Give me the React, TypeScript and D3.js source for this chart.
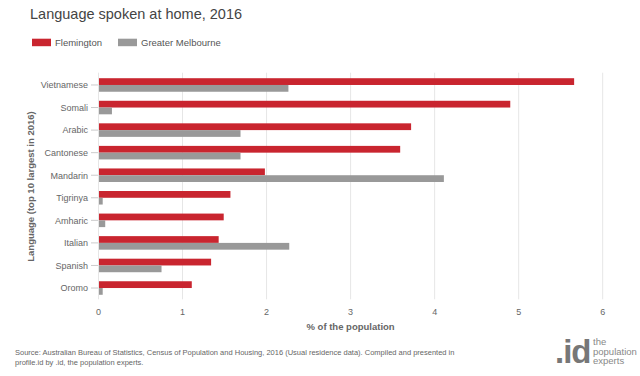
import React from "react";
import * as d3 from "d3";

const categories = ["Vietnamese", "Somali", "Arabic", "Cantonese", "Mandarin", "Tigrinya", "Amharic", "Italian", "Spanish", "Oromo"];
const flemington = [5.66, 4.9, 3.72, 3.59, 1.98, 1.57, 1.49, 1.43, 1.34, 1.11];
const greaterMelbourne = [2.26, 0.16, 1.69, 1.69, 4.11, 0.05, 0.08, 2.27, 0.75, 0.05];
const xTicks = [0, 1, 2, 3, 4, 5, 6];
const seriesNames = ["Flemington", "Greater Melbourne"];
const seriesColors = ["#c9252f", "#999999"];

const W = 640, H = 376;
const left = 98.5, right = 602.7, top = 73.7, bottom = 299.3;
const font = "Arial, 'Liberation Sans', Helvetica, sans-serif";

export default function App() {
  const x = d3.scaleLinear().domain([0, 6]).range([left, right]);
  const y = d3.scaleBand<string>().domain(categories).range([top, bottom]).paddingInner(0.4).paddingOuter(0.2);
  const sub = d3.scaleBand<number>().domain([0, 1]).range([0, y.bandwidth()]);
  const series = [flemington, greaterMelbourne];
  return (
    <svg width={W} height={H} style={{ position: "absolute", left: 0, top: 0, background: "#fff" }} fontFamily={font}>
      <rect width={W} height={H} fill="#fff" />
      <text x={30} y={18.5} fontSize={14.5} fill="#444">Language spoken at home, 2016</text>
      {seriesNames.map((n, i) => (
        <g key={n} transform={`translate(${[32, 118][i]},38.7)`}>
          <rect width={19} height={7.5} fill={seriesColors[i]} />
          <text x={23} y={7.3} fontSize={9.5} fill="#555">{n}</text>
        </g>
      ))}
      {xTicks.map(t => (
        <g key={t}>
          {t > 0 && <line x1={x(t)} x2={x(t)} y1={top - 1} y2={bottom} stroke="#e6e6e6" strokeWidth={1} />}
          <text x={x(t)} y={314.5} fontSize={9} fill="#666" textAnchor="middle">{t}</text>
        </g>
      ))}
      {categories.map((c, i) => (
        <g key={c}>
          <line x1={91} x2={98} y1={(y(c) as number) + y.bandwidth() / 2} y2={(y(c) as number) + y.bandwidth() / 2} stroke="#ccc" />
          <text x={88} y={(y(c) as number) + y.bandwidth() / 2 + 3.3} fontSize={9} fill="#666" textAnchor="end">{c}</text>
          {series.map((s, j) => (
            <rect key={j} x={x(0)} y={(y(c) as number) + (sub(j) as number)} width={x(s[i]) - x(0)} height={sub.bandwidth()} fill={seriesColors[j]} />
          ))}
        </g>
      ))}
      <line x1={x(0)} x2={x(0)} y1={top - 1} y2={bottom} stroke="#e6e6e6" />
      <text x={(left + right) / 2} y={329.5} fontSize={9.5} fontWeight="bold" fill="#666" textAnchor="middle">% of the population</text>
      <text transform={`translate(34,${(top + bottom) / 2}) rotate(-90)`} fontSize={9.5} fontWeight="bold" fill="#666" textAnchor="middle">Language (top 10 largest in 2016)</text>
      <text x={15} y={354.5} fontSize={7.5} fill="#666">Source: Australian Bureau of Statistics, Census of Population and Housing, 2016 (Usual residence data). Compiled and presented in</text>
      <text x={15} y={364.5} fontSize={7.5} fill="#666">profile.id by .id, the population experts.</text>
      <text x={555} y={363} fontSize={33} fontWeight="bold" fill="#777" letterSpacing={-1}>.id</text>
      <text x={593} y={345} fontSize={9.5} fill="#888">the</text>
      <text x={593} y={354.5} fontSize={9.5} fill="#888">population</text>
      <text x={593} y={364} fontSize={9.5} fill="#888">experts</text>
    </svg>
  );
}
